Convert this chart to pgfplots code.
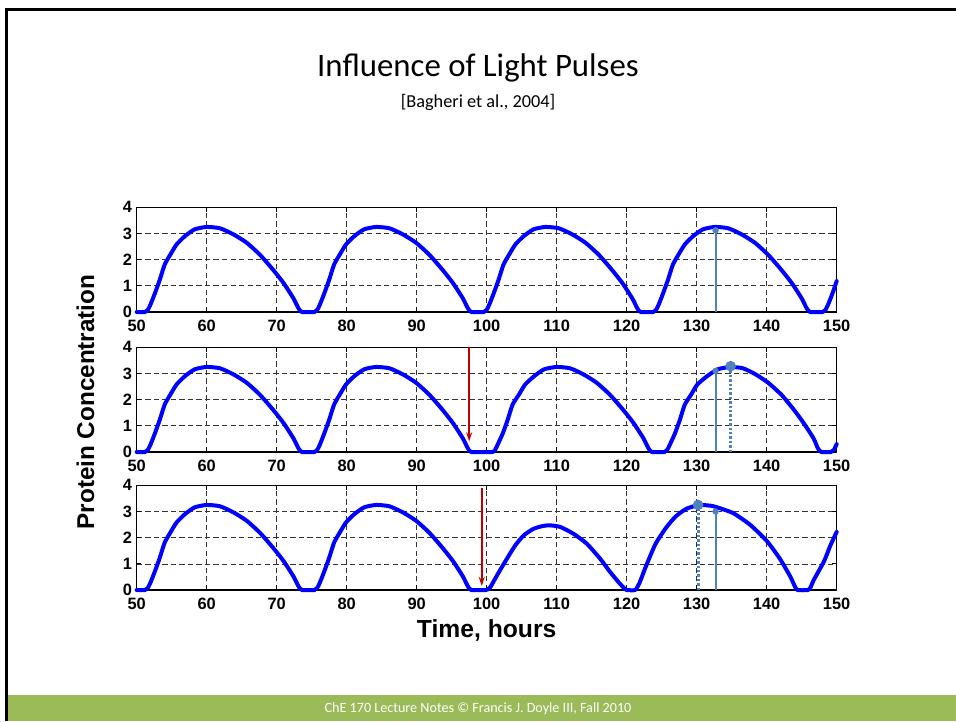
\documentclass[border=0pt]{standalone}
\usepackage{fontspec}
\setmainfont{Carlito}
\newfontfamily\arial{Liberation Sans}
\usepackage{pgfplots}
\pgfplotsset{compat=1.18}
\usetikzlibrary{arrows.meta}

\definecolor{curveblue}{RGB}{0,0,255}
\definecolor{marker}{RGB}{79,129,189}
\definecolor{pulse}{RGB}{192,0,0}
\definecolor{footer}{RGB}{155,187,89}

\pgfplotsset{
  panel/.style={
    scale only axis, width=525pt, height=78.5pt, anchor=south west,
    xmin=50, xmax=150, ymin=0, ymax=4,
    xtick={50,60,...,150}, ytick={0,1,2,3,4},
    grid=major,
    grid style={black!80, line width=0.5pt, dash pattern=on 4pt off 2.4pt},
    axis line style={black, line width=0.8pt},
    tick align=inside, major tick length=3.5pt,
    tick style={black, line width=0.6pt},
    clip=false,
    /pgf/number format/assume math mode=true,
    tick label style={font=\arial\bfseries\fontsize{12.3}{14}\selectfont},
    xticklabel style={yshift=-2.5pt},
  },
  conc/.style={curveblue, line width=3pt, line join=round, line cap=round, smooth, tension=0.35},
  solidmark/.style={marker, line width=1.5pt, mark=*, mark size=1.6pt, mark indices={2}},
  dotmark/.style={marker, line width=2.2pt, dash pattern=on 1.8pt off 1.5pt, mark=*, mark size=2.8pt, mark indices={2}, mark options={solid}},
  pulsearrow/.style={pulse, line width=1.1pt, -{Stealth[length=7pt,width=4.5pt,inset=2.5pt]}},
}

\begin{document}
\begin{tikzpicture}
\path[use as bounding box] (0,0) rectangle (717pt,540.75pt);
\fill[white] (0,0) rectangle (717pt,540.75pt);
\fill[footer] (6pt,0) rectangle (717pt,19.5pt);
\draw[line width=2.25pt] (4.9pt,0) -- (4.9pt,533.6pt) -- (717pt,533.6pt);

\node[anchor=base, font=\fontsize{24.6}{29}\selectfont] at (358.5pt,483pt) {Influence of Light Pulses};
\node[anchor=base, font=\fontsize{13.7}{16}\selectfont] at (358.5pt,460pt) {[Bagheri et al., 2004]};
\node[white, font=\fontsize{10.6}{12}\selectfont] at (358.5pt,9.5pt) {ChE 170 Lecture Notes © Francis J. Doyle III, Fall 2010};

% top panel: no light pulse
\begin{axis}[panel, at={(102.5pt,306.75pt)}]
\addplot[conc] coordinates {
(50,0) (51.2,0) (51.6,0.08) (52.0,0.3) (52.6,0.71) (53.3,1.23) (54.0,1.81) (54.8,2.19) (55.7,2.58) (56.9,2.90) (58.3,3.16) (60,3.25) (61.9,3.20) (63.8,2.97) (65.7,2.65) (67.6,2.19) (69.5,1.61) (71.0,1.10) (72.4,0.52) (73.1,0.15) (73.6,0)
(75.4,0) (75.8,0.08) (76.2,0.3) (76.8,0.71) (77.5,1.23) (78.2,1.81) (79.0,2.19) (79.9,2.58) (81.1,2.90) (82.5,3.16) (84.2,3.25) (86.1,3.20) (88.0,2.97) (89.9,2.65) (91.8,2.19) (93.7,1.61) (95.2,1.10) (96.6,0.52) (97.3,0.15) (97.8,0)
(99.6,0) (100.0,0.08) (100.4,0.3) (101.0,0.71) (101.7,1.23) (102.4,1.81) (103.2,2.19) (104.1,2.58) (105.3,2.90) (106.7,3.16) (108.4,3.25) (110.3,3.20) (112.2,2.97) (114.1,2.65) (116.0,2.19) (117.9,1.61) (119.4,1.10) (120.8,0.52) (121.5,0.15) (122.0,0)
(123.8,0) (124.2,0.08) (124.6,0.3) (125.2,0.71) (125.9,1.23) (126.6,1.81) (127.4,2.19) (128.3,2.58) (129.5,2.90) (130.9,3.16) (132.6,3.25) (134.5,3.20) (136.4,2.97) (138.3,2.65) (140.2,2.19) (142.1,1.61) (143.6,1.10) (145.0,0.52) (145.7,0.15) (146.2,0)
(148.0,0) (148.4,0.08) (148.8,0.3) (149.4,0.71) (150,1.18)
};
\addplot[solidmark] coordinates {(132.7,0) (132.7,3.12)};
\end{axis}

% middle panel: pulse at 97.5 h (delay)
\begin{axis}[panel, at={(102.5pt,201.75pt)}]
\addplot[conc] coordinates {
(50,0) (51.2,0) (51.6,0.08) (52.0,0.3) (52.6,0.71) (53.3,1.23) (54.0,1.81) (54.8,2.19) (55.7,2.58) (56.9,2.90) (58.3,3.16) (60,3.25) (61.9,3.20) (63.8,2.97) (65.7,2.65) (67.6,2.19) (69.5,1.61) (71.0,1.10) (72.4,0.52) (73.1,0.15) (73.6,0)
(75.4,0) (75.8,0.08) (76.2,0.3) (76.8,0.71) (77.5,1.23) (78.2,1.81) (79.0,2.19) (79.9,2.58) (81.1,2.90) (82.5,3.16) (84.2,3.25) (86.1,3.20) (88.0,2.97) (89.9,2.65) (91.8,2.19) (93.7,1.61) (95.2,1.10) (96.6,0.52) (97.3,0.15) (97.8,0)
(100.8,0) (101.2,0.08) (101.6,0.3) (102.3,0.71) (103.0,1.23) (103.7,1.81) (104.6,2.19) (105.5,2.58) (106.8,2.90) (108.2,3.16) (110,3.25) (111.9,3.20) (113.8,2.97) (115.7,2.65) (117.6,2.19) (119.5,1.61) (121.0,1.10) (122.4,0.52) (123.1,0.15) (123.6,0)
(125.4,0) (125.8,0.08) (126.2,0.3) (126.9,0.71) (127.6,1.23) (128.3,1.81) (129.2,2.19) (130.1,2.58) (131.5,2.90) (133.0,3.16) (134.8,3.25) (136.6,3.20) (138.4,2.97) (140.2,2.65) (142.1,2.19) (143.9,1.61) (145.3,1.10) (146.7,0.52) (147.3,0.15) (147.8,0)
(149.2,0) (149.6,0.08) (150,0.3)
};
\addplot[solidmark] coordinates {(132.7,0) (132.7,3.1)};
\addplot[dotmark] coordinates {(134.85,0) (134.85,3.28)};
\addplot[pulsearrow] coordinates {(97.5,4) (97.5,0.4)};
\end{axis}

% bottom panel: pulse at 99.3 h (advance)
\begin{axis}[panel, at={(102.5pt,98.25pt)}]
\addplot[conc] coordinates {
(50,0) (51.2,0) (51.6,0.08) (52.0,0.3) (52.6,0.71) (53.3,1.23) (54.0,1.81) (54.8,2.19) (55.7,2.58) (56.9,2.90) (58.3,3.16) (60,3.25) (61.9,3.20) (63.8,2.97) (65.7,2.65) (67.6,2.19) (69.5,1.61) (71.0,1.10) (72.4,0.52) (73.1,0.15) (73.6,0)
(75.4,0) (75.8,0.08) (76.2,0.3) (76.8,0.71) (77.5,1.23) (78.2,1.81) (79.0,2.19) (79.9,2.58) (81.1,2.90) (82.5,3.16) (84.2,3.25) (86.1,3.20) (88.0,2.97) (89.9,2.65) (91.8,2.19) (93.7,1.61) (95.2,1.10) (96.6,0.52) (97.3,0.15) (97.8,0)
(99.9,0) (100.5,0.1) (101.5,0.57) (102.9,1.2) (104.1,1.71) (105.3,2.09) (106.7,2.34) (108.1,2.45) (109.1,2.47) (110.5,2.41) (112.4,2.15) (114.3,1.77) (116.2,1.2) (117.6,0.70) (119.0,0.25) (119.8,0.03) (120.0,0)
(121.2,0) (121.8,0.25) (122.7,0.87) (124.1,1.75) (125.6,2.37) (127.0,2.81) (128.5,3.1) (130.3,3.25) (132.0,3.22) (132.8,3.17) (135.2,2.94) (137.6,2.5) (140.0,1.88) (141.9,1.19) (143.4,0.5) (144.0,0.15) (144.4,0)
(145.9,0) (146.3,0.12) (146.7,0.37) (148.2,1.1) (149.1,1.7) (150,2.22)
};
\addplot[dotmark] coordinates {(130.2,0) (130.2,3.25)};
\addplot[solidmark] coordinates {(132.7,0) (132.7,3.0)};
\addplot[pulsearrow] coordinates {(99.3,3.9) (99.3,0.15)};
\end{axis}

\node[rotate=90, anchor=base, font=\arial\bfseries\fontsize{18.2}{22}\selectfont] at (70.5pt,239.25pt) {Protein Concentration};
\node[anchor=base, font=\arial\bfseries\fontsize{18.5}{22}\selectfont] at (365pt,63pt) {Time, hours};
\end{tikzpicture}
\end{document}
